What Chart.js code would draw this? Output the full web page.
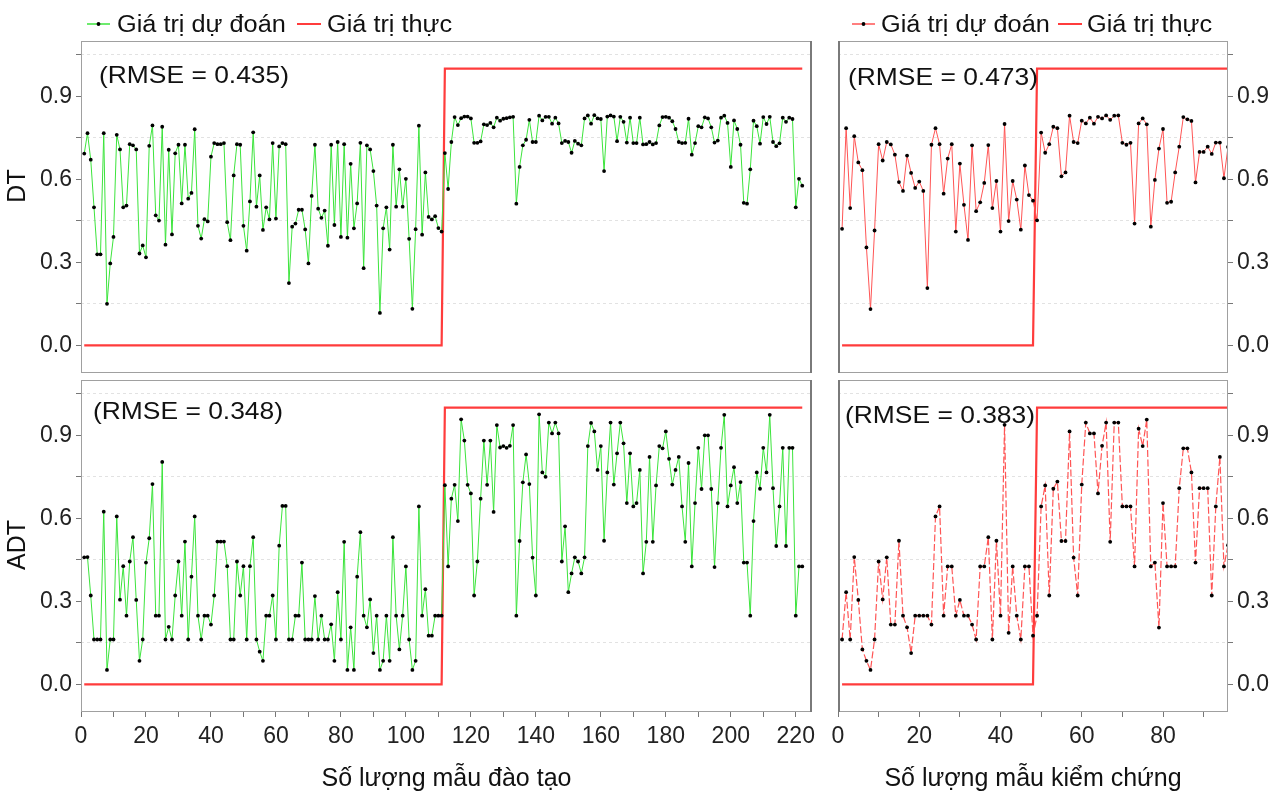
<!DOCTYPE html>
<html>
<head>
<meta charset="utf-8">
<script src="https://cdn.jsdelivr.net/npm/chart.js@4.4.1/dist/chart.umd.min.js"></script>
<style>
  body { margin: 0; background: #fff; }
  #wrap { position: relative; width: 1281px; height: 794px; overflow: hidden; }
  #wrap canvas { position: absolute; }
</style>
</head>
<body>
<div id="wrap">
  <canvas id="dtTrain"></canvas>
  <canvas id="adtTrain"></canvas>
  <canvas id="dtTest"></canvas>
  <canvas id="adtTest"></canvas>
</div>
<script>
// --- data ---
const trainTicks = [0, 10, 20, 30, 40, 50, 60, 70, 80, 90, 100, 110, 120, 130, 140, 150, 160, 170, 180, 190, 200, 210, 220];
const testTicks = [0, 10, 20, 30, 40, 50, 60, 70, 80, 90];
const yTicks = [0, 0.15, 0.3, 0.45, 0.6, 0.75, 0.9, 1.05];
const yLabelled = [0, 0.3, 0.6, 0.9];

// actual values (step from 0 to 1)
const trainActualX = [1, 111, 112, 222];
const trainActualY = [0, 0, 1, 1];
const testActualX = [1, 48, 49, 96];
const testActualY = [0, 0, 1, 1];

// DT, training samples
const dtTrainPred = [
  0.693, 0.767, 0.671, 0.499, 0.329, 0.329, 0.767, 0.150, 0.296, 0.392,
  0.761, 0.708, 0.499, 0.505, 0.727, 0.723, 0.708, 0.332, 0.361, 0.318,
  0.721, 0.795, 0.470, 0.451, 0.790, 0.364, 0.707, 0.401, 0.694, 0.725,
  0.513, 0.725, 0.530, 0.551, 0.781, 0.432, 0.386, 0.456, 0.448, 0.682,
  0.731, 0.727, 0.727, 0.731, 0.445, 0.380, 0.614, 0.727, 0.725, 0.432,
  0.342, 0.520, 0.770, 0.501, 0.614, 0.417, 0.499, 0.455, 0.731, 0.458,
  0.719, 0.731, 0.727, 0.225, 0.429, 0.440, 0.490, 0.490, 0.419, 0.296,
  0.540, 0.725, 0.494, 0.461, 0.487, 0.360, 0.725, 0.435, 0.735, 0.392,
  0.727, 0.389, 0.656, 0.423, 0.513, 0.732, 0.279, 0.723, 0.708, 0.630,
  0.505, 0.117, 0.423, 0.499, 0.346, 0.725, 0.501, 0.636, 0.501, 0.602,
  0.385, 0.132, 0.420, 0.794, 0.400, 0.625, 0.464, 0.455, 0.467, 0.424,
  0.411, 0.695, 0.565, 0.735, 0.825, 0.796, 0.821, 0.827, 0.827, 0.820,
  0.732, 0.732, 0.737, 0.799, 0.796, 0.804, 0.788, 0.823, 0.812, 0.819,
  0.821, 0.824, 0.826, 0.512, 0.645, 0.723, 0.743, 0.815, 0.735, 0.735,
  0.830, 0.813, 0.826, 0.826, 0.801, 0.823, 0.802, 0.731, 0.739, 0.735,
  0.696, 0.739, 0.729, 0.723, 0.820, 0.831, 0.801, 0.832, 0.820, 0.818,
  0.630, 0.827, 0.831, 0.827, 0.738, 0.826, 0.808, 0.733, 0.823, 0.731,
  0.731, 0.823, 0.726, 0.727, 0.735, 0.726, 0.731, 0.795, 0.825, 0.826,
  0.823, 0.810, 0.782, 0.735, 0.731, 0.732, 0.819, 0.689, 0.731, 0.792,
  0.788, 0.824, 0.820, 0.788, 0.733, 0.740, 0.823, 0.830, 0.804, 0.645,
  0.813, 0.782, 0.725, 0.515, 0.512, 0.636, 0.812, 0.792, 0.729, 0.825,
  0.800, 0.826, 0.735, 0.720, 0.730, 0.823, 0.808, 0.823, 0.818, 0.499,
  0.602, 0.577
];

// ADT, training samples
const adtTrainPred = [
  0.459, 0.460, 0.321, 0.162, 0.162, 0.162, 0.624, 0.052, 0.162, 0.162,
  0.607, 0.306, 0.427, 0.248, 0.444, 0.532, 0.305, 0.085, 0.162, 0.440,
  0.528, 0.724, 0.248, 0.248, 0.804, 0.162, 0.208, 0.162, 0.321, 0.444,
  0.248, 0.516, 0.162, 0.389, 0.607, 0.248, 0.162, 0.248, 0.248, 0.216,
  0.321, 0.516, 0.516, 0.516, 0.427, 0.162, 0.162, 0.444, 0.321, 0.427,
  0.162, 0.427, 0.532, 0.162, 0.118, 0.085, 0.248, 0.248, 0.321, 0.162,
  0.501, 0.645, 0.645, 0.162, 0.162, 0.248, 0.248, 0.440, 0.162, 0.162,
  0.162, 0.319, 0.162, 0.248, 0.162, 0.162, 0.217, 0.085, 0.333, 0.162,
  0.515, 0.052, 0.206, 0.052, 0.389, 0.550, 0.248, 0.206, 0.307, 0.113,
  0.248, 0.052, 0.085, 0.248, 0.085, 0.532, 0.248, 0.126, 0.248, 0.426,
  0.162, 0.052, 0.085, 0.643, 0.248, 0.344, 0.176, 0.176, 0.248, 0.248,
  0.248, 0.720, 0.426, 0.671, 0.721, 0.590, 0.958, 0.881, 0.721, 0.690,
  0.321, 0.444, 0.671, 0.881, 0.721, 0.881, 0.623, 0.937, 0.856, 0.861,
  0.855, 0.862, 0.937, 0.248, 0.518, 0.730, 0.831, 0.724, 0.458, 0.321,
  0.976, 0.766, 0.750, 0.946, 0.907, 0.946, 0.907, 0.444, 0.571, 0.333,
  0.401, 0.459, 0.444, 0.401, 0.459, 0.861, 0.945, 0.914, 0.775, 0.861,
  0.519, 0.766, 0.946, 0.722, 0.835, 0.946, 0.871, 0.655, 0.835, 0.643,
  0.655, 0.775, 0.401, 0.515, 0.822, 0.515, 0.719, 0.861, 0.853, 0.914,
  0.815, 0.722, 0.775, 0.822, 0.643, 0.515, 0.800, 0.426, 0.655, 0.855,
  0.706, 0.900, 0.900, 0.706, 0.424, 0.655, 0.855, 0.974, 0.643, 0.719,
  0.785, 0.655, 0.731, 0.440, 0.440, 0.248, 0.590, 0.766, 0.707, 0.855,
  0.766, 0.974, 0.709, 0.500, 0.643, 0.855, 0.500, 0.855, 0.855, 0.248,
  0.426, 0.426
];

// DT, test samples
const dtTestPred = [
  0.421, 0.785, 0.496, 0.756, 0.661, 0.633, 0.354, 0.131, 0.415, 0.727,
  0.668, 0.735, 0.726, 0.689, 0.590, 0.558, 0.686, 0.623, 0.569, 0.592,
  0.558, 0.207, 0.725, 0.785, 0.727, 0.548, 0.675, 0.727, 0.411, 0.657,
  0.508, 0.381, 0.723, 0.485, 0.517, 0.587, 0.724, 0.496, 0.594, 0.411,
  0.800, 0.449, 0.594, 0.527, 0.418, 0.650, 0.543, 0.523, 0.452, 0.769,
  0.696, 0.727, 0.790, 0.785, 0.611, 0.625, 0.830, 0.735, 0.731, 0.812,
  0.802, 0.823, 0.801, 0.826, 0.820, 0.831, 0.815, 0.830, 0.831, 0.732,
  0.725, 0.732, 0.440, 0.802, 0.820, 0.799, 0.429, 0.598, 0.711, 0.782,
  0.515, 0.519, 0.625, 0.718, 0.825, 0.817, 0.811, 0.589, 0.699, 0.699,
  0.718, 0.692, 0.733, 0.733, 0.604, 0.717
];

// ADT, test samples
const adtTestPred = [
  0.162, 0.333, 0.162, 0.460, 0.305, 0.126, 0.085, 0.052, 0.162, 0.444,
  0.307, 0.459, 0.216, 0.216, 0.519, 0.248, 0.206, 0.113, 0.248, 0.248,
  0.248, 0.248, 0.216, 0.607, 0.643, 0.248, 0.426, 0.426, 0.248, 0.305,
  0.248, 0.248, 0.216, 0.162, 0.426, 0.426, 0.532, 0.162, 0.519, 0.248,
  0.938, 0.186, 0.426, 0.248, 0.162, 0.426, 0.426, 0.176, 0.248, 0.643,
  0.719, 0.321, 0.707, 0.733, 0.518, 0.518, 0.914, 0.458, 0.321, 0.722,
  0.946, 0.907, 0.907, 0.690, 0.862, 0.946, 0.515, 0.946, 0.946, 0.643,
  0.643, 0.643, 0.426, 0.924, 0.861, 0.957, 0.426, 0.440, 0.205, 0.655,
  0.426, 0.426, 0.426, 0.709, 0.853, 0.853, 0.766, 0.440, 0.709, 0.709,
  0.709, 0.321, 0.643, 0.822, 0.426, 0.503
];

const rmse = { dtTrain: '0.435', adtTrain: '0.348', dtTest: '0.473', adtTest: '0.383' };

// --- drawing ---
const FONT = "'Liberation Sans', Arial, sans-serif";
Chart.defaults.font.family = FONT;
Chart.defaults.color = '#222';

const GREEN = 'rgb(60, 228, 60)';
const RED = 'rgb(255, 60, 60)';
const RED_PRED = 'rgb(255, 85, 85)';

function pts(values) {
  return values.map((v, i) => ({ x: i + 1, y: v }));
}

function isLabelled(v) {
  return yLabelled.some(t => Math.abs(t - v) < 1e-6);
}

// border, axis name, rmse note and legend drawn on top of each panel
const panelDeco = {
  id: 'panelDeco',
  afterDraw(chart, args, opts) {
    const ctx = chart.ctx;
    const a = chart.chartArea;
    ctx.save();
    ctx.strokeStyle = '#a0a0a0';
    ctx.lineWidth = 1;
    ctx.strokeRect(a.left + 0.5, a.top + 0.5, a.right - a.left - 1, a.bottom - a.top - 1);
    if (opts.darkSide) {
      ctx.strokeStyle = '#7a7a7a';
      ctx.lineWidth = 2;
      const x = opts.darkSide === 'right' ? a.right - 1 : a.left + 1;
      ctx.beginPath();
      ctx.moveTo(x, a.top);
      ctx.lineTo(x, a.bottom);
      ctx.stroke();
    }

    ctx.fillStyle = '#111';
    if (opts.yName) {
      ctx.save();
      ctx.translate(opts.yName.x, opts.yName.y);
      ctx.rotate(-Math.PI / 2);
      ctx.textAlign = 'center';
      ctx.textBaseline = 'middle';
      ctx.font = '25px ' + FONT;
      ctx.fillText(opts.yName.text, 0, 0);
      ctx.restore();
    }

    ctx.textBaseline = 'alphabetic';
    if (opts.note) {
      ctx.save();
      ctx.translate(opts.note.x, opts.note.y);
      ctx.scale(1.1, 1);
      ctx.font = '24px ' + FONT;
      ctx.fillText(opts.note.text, 0, 0);
      ctx.restore();
    }

    (opts.legend || []).forEach(item => {
      ctx.save();
      ctx.strokeStyle = item.color;
      ctx.lineWidth = item.width;
      ctx.beginPath();
      ctx.moveTo(item.x0, 24);
      ctx.lineTo(item.x1, 24);
      ctx.stroke();
      if (item.dot) {
        ctx.fillStyle = '#000';
        ctx.beginPath();
        ctx.arc((item.x0 + item.x1) / 2, 24, 1.9, 0, Math.PI * 2);
        ctx.fill();
      }
      ctx.fillStyle = '#111';
      ctx.translate(item.tx, 32);
      ctx.scale(1.1, 1);
      ctx.font = '23px ' + FONT;
      ctx.fillText(item.text, 0, 0);
      ctx.restore();
    });
    ctx.restore();
  }
};

function makePanel(id, o) {
  const cv = document.getElementById(id);
  cv.width = o.w;
  cv.height = o.h;
  cv.style.left = o.left + 'px';
  cv.style.top = o.top + 'px';

  return new Chart(cv, {
    type: 'line',
    data: {
      datasets: [
        {
          data: pts(o.pred),
          borderColor: o.predColor,
          borderWidth: o.dash ? 1.2 : 1,
          borderDash: o.dash || [],
          pointRadius: 1.9,
          pointBackgroundColor: '#000',
          pointBorderWidth: 0,
          tension: 0
        },
        {
          data: o.actX.map((x, i) => ({ x: x, y: o.actY[i] })),
          borderColor: RED,
          borderWidth: 2.2,
          pointRadius: 0,
          tension: 0
        }
      ]
    },
    options: {
      responsive: false,
      animation: false,
      devicePixelRatio: 1,
      layout: { padding: o.pad },
      plugins: {
        legend: { display: false },
        tooltip: { enabled: false },
        panelDeco: { note: o.note, legend: o.legend, darkSide: o.darkSide, yName: o.yName }
      },
      scales: {
        x: {
          type: 'linear',
          min: 0,
          max: o.xMax,
          display: o.showX,
          afterBuildTicks: s => { s.ticks = o.xTicks.map(v => ({ value: v })); },
          afterFit: s => {
            if (!o.showX) return;
            s.height = 82;
            s.paddingLeft = 0;
            s.paddingRight = 0;
          },
          ticks: {
            autoSkip: false,
            maxRotation: 0,
            padding: 6,
            color: '#222',
            font: { size: 23 },
            callback: v => (v % 20 === 0 ? String(v) : '')
          },
          grid: { drawOnChartArea: false, tickColor: '#777', tickLength: 5 },
          border: { display: false },
          title: {
            display: !!o.xTitle,
            text: o.xTitle,
            color: '#111',
            font: { size: 25 },
            padding: { top: 0, bottom: 0 }
          }
        },
        y: {
          type: 'linear',
          position: o.yPos,
          min: -0.1,
          max: 1.1,
          afterBuildTicks: s => { s.ticks = yTicks.map(v => ({ value: v })); },
          afterFit: s => { s.width = o.yW; s.paddingTop = 0; s.paddingBottom = 0; },
          ticks: {
            autoSkip: false,
            padding: 4,
            color: '#222',
            font: { size: 23 },
            callback: v => (isLabelled(v) ? v.toFixed(1) : '')
          },
          grid: {
            color: c => (c.tick && isLabelled(c.tick.value) ? 'rgba(0,0,0,0)' : '#e2e2e2'),
            tickColor: '#777',
            tickLength: 5
          },
          border: { display: false, dash: [3, 3] }
        }
      }
    },
    plugins: [panelDeco]
  });
}

makePanel('dtTrain', {
  left: 0, top: 0, w: 816, h: 377,
  pad: { top: 41, right: 4, bottom: 0, left: 0 },
  pred: dtTrainPred, predColor: GREEN, actX: trainActualX, actY: trainActualY,
  xMax: 225, xTicks: trainTicks, showX: false,
  yPos: 'left', yW: 81, darkSide: 'right',
  yName: { x: 18, y: 186, text: 'DT' },
  note: { x: 99, y: 83, text: '(RMSE = ' + rmse.dtTrain + ')' },
  legend: [
    { x0: 87, x1: 110, color: GREEN, width: 1.5, dot: true, tx: 117, text: 'Giá trị dự đoán' },
    { x0: 297, x1: 321, color: RED, width: 2, dot: false, tx: 327, text: 'Giá trị thực' }
  ]
});

makePanel('adtTrain', {
  left: 0, top: 376, w: 816, h: 418,
  pad: { top: 0, right: 4, bottom: 0, left: 0 },
  pred: adtTrainPred, predColor: GREEN, actX: trainActualX, actY: trainActualY,
  xMax: 225, xTicks: trainTicks, showX: true, xTitle: 'Số lượng mẫu đào tạo',
  yPos: 'left', yW: 81, darkSide: 'right',
  yName: { x: 18, y: 169, text: 'ADT' },
  note: { x: 93, y: 43, text: '(RMSE = ' + rmse.adtTrain + ')' }
});

makePanel('dtTest', {
  left: 820, top: 0, w: 461, h: 377,
  pad: { top: 41, right: 0, bottom: 0, left: 18 },
  pred: dtTestPred, predColor: RED_PRED, actX: testActualX, actY: testActualY,
  xMax: 96, xTicks: testTicks, showX: false,
  yPos: 'right', yW: 53, darkSide: 'left',
  note: { x: 28, y: 85, text: '(RMSE = ' + rmse.dtTest + ')' },
  legend: [
    { x0: 32, x1: 55, color: RED_PRED, width: 1.5, dot: true, tx: 61, text: 'Giá trị dự đoán' },
    { x0: 238, x1: 262, color: RED, width: 2, dot: false, tx: 267, text: 'Giá trị thực' }
  ]
});

makePanel('adtTest', {
  left: 820, top: 376, w: 461, h: 418,
  pad: { top: 0, right: 0, bottom: 0, left: 18 },
  pred: adtTestPred, predColor: RED_PRED, dash: [7, 2.5], actX: testActualX, actY: testActualY,
  xMax: 96, xTicks: testTicks, showX: true, xTitle: 'Số lượng mẫu kiểm chứng',
  yPos: 'right', yW: 53, darkSide: 'left',
  note: { x: 25, y: 47, text: '(RMSE = ' + rmse.adtTest + ')' }
});
</script>
</body>
</html>
